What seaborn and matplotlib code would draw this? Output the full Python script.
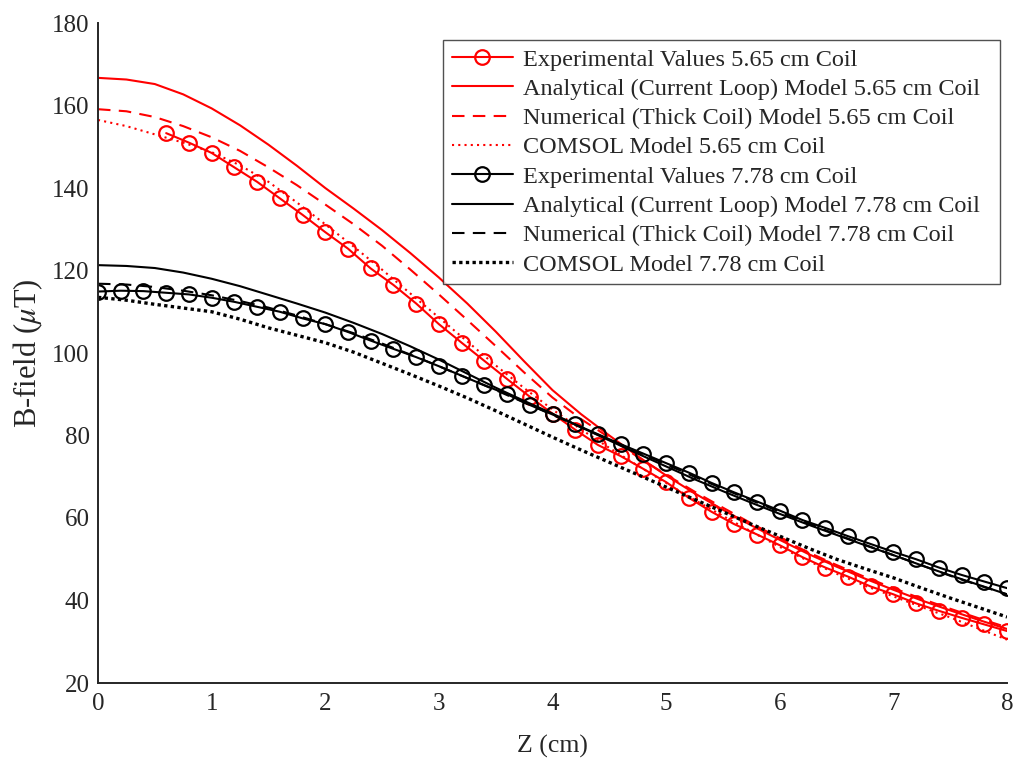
import numpy as np
import pandas as pd
import matplotlib
matplotlib.use("Agg")
import matplotlib.pyplot as plt
import seaborn as sns

# ---------------- data ----------------
z_exp_565 = [0.6, 0.8, 1.0, 1.2, 1.4, 1.6, 1.8, 2.0, 2.2, 2.4, 2.6, 2.8, 3.0, 3.2, 3.4, 3.6,
             3.8, 4.0, 4.2, 4.4, 4.6, 4.8, 5.0, 5.2, 5.4, 5.6, 5.8, 6.0, 6.2, 6.4, 6.6, 6.8,
             7.0, 7.2, 7.4, 7.6, 7.8, 8.0]
b_exp_565 = [153.3, 151.0, 148.5, 145.0, 141.5, 137.5, 133.5, 129.3, 125.3, 120.5, 116.5, 112.0,
             107.0, 102.5, 98.1, 93.7, 89.4, 85.3, 81.4, 77.7, 75.0, 71.9, 68.7, 64.9, 61.5, 58.5,
             56.0, 53.4, 50.5, 48.0, 45.8, 43.4, 41.5, 39.3, 37.5, 35.8, 34.2, 32.6]

z_exp_778 = [0.0, 0.2, 0.4, 0.6, 0.8, 1.0, 1.2, 1.4, 1.6, 1.8, 2.0, 2.2, 2.4, 2.6, 2.8, 3.0,
             3.2, 3.4, 3.6, 3.8, 4.0, 4.2, 4.4, 4.6, 4.8, 5.0, 5.2, 5.4, 5.6, 5.8, 6.0, 6.2,
             6.4, 6.6, 6.8, 7.0, 7.2, 7.4, 7.6, 7.8, 8.0]
b_exp_778 = [114.9, 115.1, 115.0, 114.6, 114.2, 113.4, 112.4, 111.2, 110.0, 108.4, 107.0, 105.1,
             103.0, 101.0, 99.0, 96.8, 94.5, 92.2, 90.0, 87.4, 85.1, 82.7, 80.3, 77.9, 75.6,
             73.3, 71.0, 68.5, 66.2, 64.0, 61.8, 59.5, 57.6, 55.6, 53.7, 51.8, 50.0, 48.0,
             46.2, 44.6, 43.0]

z_model = [0.0, 0.25, 0.5, 0.75, 1.0, 1.25, 1.5, 1.75, 2.0, 2.25, 2.5, 2.75, 3.0, 3.25, 3.5,
           3.75, 4.0, 4.25, 4.5, 4.75, 5.0, 5.25, 5.5, 5.75, 6.0, 6.25, 6.5, 6.75, 7.0, 7.25,
           7.5, 7.75, 8.0]
b_analytical_565 = [166.7, 166.3, 165.2, 162.7, 159.3, 155.2, 150.5, 145.4, 140.0, 135.0, 129.8,
                    124.2, 118.3, 112.0, 105.2, 98.0, 91.0, 85.2, 80.0, 75.0, 70.3, 66.0, 62.0,
                    58.2, 54.7, 51.3, 48.2, 45.3, 42.6, 40.0, 37.6, 35.3, 33.1]
b_numerical_565 = [159.1, 158.6, 157.2, 155.0, 152.3, 149.0, 145.0, 140.7, 136.0, 131.2, 126.0,
                   120.2, 114.2, 108.0, 101.7, 95.3, 89.2, 84.0, 79.5, 74.8, 70.5, 66.4, 62.5,
                   58.7, 55.1, 51.7, 48.6, 45.7, 43.0, 40.4, 38.0, 35.7, 33.5]
b_comsol_565 = [156.5, 155.0, 153.0, 151.0, 148.7, 145.5, 141.5, 136.5, 131.2, 125.8, 120.2,
                114.4, 108.6, 102.8, 97.0, 91.5, 86.3, 81.5, 77.0, 72.7, 68.5, 64.4, 60.5,
                56.7, 53.0, 49.6, 46.5, 43.6, 41.0, 38.4, 35.9, 33.2, 30.5]
b_analytical_778 = [121.3, 121.1, 120.6, 119.5, 118.0, 116.2, 114.1, 112.0, 109.8, 107.3, 104.6,
                    101.6, 98.4, 95.0, 91.6, 88.4, 85.3, 82.0, 78.8, 75.6, 72.5, 69.4, 66.5,
                    63.7, 61.0, 58.4, 55.9, 53.4, 51.0, 48.5, 46.1, 43.8, 41.5]
b_numerical_778 = [116.8, 116.6, 116.0, 115.1, 114.0, 112.6, 111.0, 109.1, 107.0, 104.8, 102.3,
                   99.6, 96.8, 93.9, 91.0, 88.0, 85.0, 82.0, 79.0, 76.0, 73.0, 70.0, 67.1,
                   64.3, 61.5, 58.7, 56.0, 53.5, 51.0, 48.5, 46.0, 43.7, 41.5]
b_comsol_778 = [113.5, 112.8, 111.8, 110.9, 110.0, 108.2, 106.1, 104.3, 102.5, 100.2, 97.5,
                94.8, 92.0, 89.1, 86.0, 82.8, 79.6, 76.5, 73.5, 70.5, 67.5, 64.5, 61.5,
                58.5, 55.6, 52.7, 50.0, 47.7, 45.5, 43.0, 40.6, 38.3, 36.0]

labels = ["Experimental Values 5.65 cm Coil",
          "Analytical (Current Loop) Model 5.65 cm Coil",
          "Numerical (Thick Coil) Model 5.65 cm Coil",
          "COMSOL Model 5.65 cm Coil",
          "Experimental Values 7.78 cm Coil",
          "Analytical (Current Loop) Model 7.78 cm Coil",
          "Numerical (Thick Coil) Model 7.78 cm Coil",
          "COMSOL Model 7.78 cm Coil"]

x_ticks = [0, 1, 2, 3, 4, 5, 6, 7, 8]
y_ticks = [20, 40, 60, 80, 100, 120, 140, 160, 180]

# ---------------- style ----------------
sns.set_theme(style="white")
plt.rcParams['font.family'] = ['Liberation Serif', 'DejaVu Serif']
plt.rcParams['mathtext.fontset'] = 'stix'

W, H = 1016, 761
fig = plt.figure(figsize=(W/100, H/100), dpi=100)
ax = fig.add_axes([98/W, 1 - 683/H, (1007-98)/W, (683-23)/H])

lw = 1.5
series = [
    (z_exp_565, b_exp_565, 'red', '-', 'o', lw),
    (z_model, b_analytical_565, 'red', '-', None, lw),
    (z_model, b_numerical_565, 'red', (0, (6, 4)), None, lw),
    (z_model, b_comsol_565, 'red', (0, (1, 2.0)), None, lw),
    (z_exp_778, b_exp_778, 'black', '-', 'o', lw),
    (z_model, b_analytical_778, 'black', '-', None, lw),
    (z_model, b_numerical_778, 'black', (0, (6, 4)), None, lw),
    (z_model, b_comsol_778, 'black', (0, (1, 1.0)), None, 2.4),
]
for (xs, ys, c, ls, mk, lw_i), lab in zip(series, labels):
    df = pd.DataFrame({"z": xs, "b": ys})
    sns.lineplot(data=df, x="z", y="b", ax=ax, color=c, linestyle=ls, linewidth=lw_i,
                 marker=mk if mk else None, markersize=10.5, markerfacecolor='none',
                 markeredgecolor=c, markeredgewidth=1.6, label=lab, sort=False)

ax.set_xlim(0, 8)
ax.set_ylim(20, 180)
ax.set_xticks(x_ticks)
ax.set_yticks(y_ticks)
ax.tick_params(axis='both', direction='in', length=6.5, width=0.9, colors='#555555',
               labelsize=18, labelcolor='#262626')
ax.tick_params(axis='x', pad=7)
ax.tick_params(axis='y', pad=6)
for s in ['top', 'right']:
    ax.spines[s].set_visible(False)
for s in ['left', 'bottom']:
    ax.spines[s].set_color('#262626')
    ax.spines[s].set_linewidth(1.4)

ax.set_xlabel("Z (cm)", fontsize=18.5, color='#262626')
ax.set_ylabel(r"B-field ($\mu$T)", fontsize=22, color='#262626')
ax.xaxis.set_label_coords(0.5, (683 - 746) / 660, transform=ax.transAxes)
ax.yaxis.set_label_coords((28 - 98) / 909, 0.5, transform=ax.transAxes)
ax.xaxis.label.set_va('center')
ax.yaxis.label.set_va('center')

leg = ax.legend(loc='upper left', fontsize=17.5, frameon=True, fancybox=False,
                handlelength=2.55, handletextpad=0.4, labelspacing=0.3,
                borderpad=0.35, borderaxespad=0, mode='expand',
                bbox_to_anchor=(443/W, 1 - 283/H, (1000-443)/W, (283-40)/H),
                bbox_transform=fig.transFigure)
leg.get_frame().set_edgecolor('#262626')
leg.get_frame().set_linewidth(1.0)

fig.savefig("out.png", dpi=100)
